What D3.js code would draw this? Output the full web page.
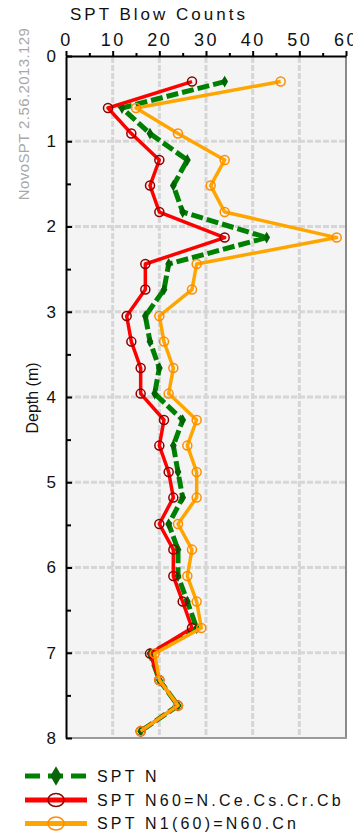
<!DOCTYPE html>
<html>
<head>
<meta charset="utf-8">
<script src="https://cdn.jsdelivr.net/npm/d3@7"></script>
<style>
  html, body { margin: 0; padding: 0; background: #ffffff; }
  svg { display: block; font-family: "Liberation Sans", Arial, sans-serif; }
</style>
</head>
<body>
<svg id="chart" width="353" height="836"></svg>
<script>
// ---- data ----
const depths = [0.30, 0.61, 0.91, 1.22, 1.52, 1.83, 2.13, 2.44, 2.74, 3.05, 3.35, 3.66, 3.96,
                4.27, 4.57, 4.88, 5.18, 5.49, 5.79, 6.10, 6.40, 6.71, 7.01, 7.32, 7.62, 7.92];
const sptN  = [34, 12, 18, 26, 23, 25, 43, 22, 21, 17, 18, 20, 19, 25, 23, 24, 25, 22, 24, 24, 26, 28, 18, 20, 24, 16];
const n60   = [27,  9, 14, 20, 18, 20, 34, 17, 17, 13, 14, 16, 16, 21, 20, 22, 23, 20, 23, 23, 25, 27, 18, 20, 24, 16];
const n160  = [46, 15, 24, 34, 31, 34, 58, 28, 27, 20, 21, 23, 22, 28, 26, 28, 28, 24, 27, 26, 28, 29, 19, 20, 24, 16];
const xTicks = [0, 10, 20, 30, 40, 50, 60];
const xMinorTicks = [5, 15, 25, 35, 45, 55];
const yTicks = [0, 1, 2, 3, 4, 5, 6, 7, 8];
const yMinorTicks = [0.5, 1.5, 2.5, 3.5, 4.5, 5.5, 6.5, 7.5];
const legendLabels = ["SPT N", "SPT N60=N.Ce.Cs.Cr.Cb", "SPT N1(60)=N60.Cn"];
const titleText = "SPT Blow Counts";
const yLabel = "Depth (m)";
const watermark = "NovoSPT 2.56.2013.129";

// ---- layout ----
const svg = d3.select("#chart");
const pLeft = 66, pRight = 346, pTop = 56, pBottom = 738;
const x = d3.scaleLinear().domain([0, 60]).range([pLeft, pRight]);
const y = d3.scaleLinear().domain([0, 8]).range([pTop, pBottom]);

// background
svg.append("rect").attr("x", pLeft).attr("y", pTop)
  .attr("width", pRight - pLeft).attr("height", pBottom - pTop)
  .attr("fill", "#f4f4f4");

// grid
const grid = svg.append("g").attr("stroke", "#d6d6d6").attr("stroke-width", 3)
  .attr("stroke-dasharray", "6,2");
grid.selectAll(".vg").data(xTicks.filter(d => d > 0 && d < 60)).join("line")
  .attr("x1", d => x(d)).attr("x2", d => x(d)).attr("y1", pTop + 1).attr("y2", pBottom - 1);
grid.selectAll(".hg").data(yTicks.filter(d => d > 0 && d < 8)).join("line")
  .attr("y1", d => y(d)).attr("y2", d => y(d)).attr("x1", pLeft + 1).attr("x2", pRight - 1);

// right & bottom border
svg.append("line").attr("x1", pRight).attr("x2", pRight).attr("y1", pTop).attr("y2", pBottom + 1)
  .attr("stroke", "#8a8a8a").attr("stroke-width", 2);
svg.append("line").attr("x1", pLeft).attr("x2", pRight + 1).attr("y1", pBottom).attr("y2", pBottom)
  .attr("stroke", "#9a9a9a").attr("stroke-width", 2);

// top axis
const xAxis = svg.append("g").attr("transform", `translate(0,${pTop})`)
  .call(d3.axisTop(x).tickValues(xTicks).tickSize(5).tickSizeOuter(0).tickPadding(5));
xAxis.select(".domain").attr("stroke", "#000").attr("stroke-width", 2);
xAxis.selectAll(".tick line").attr("stroke", "#000").attr("stroke-width", 2);
xAxis.selectAll(".tick text").attr("font-size", 18).attr("fill", "#111")
  .attr("font-family", "Liberation Sans, Arial, sans-serif").style("letter-spacing", "2.5px");
const xMinor = svg.append("g").attr("transform", `translate(0,${pTop})`)
  .call(d3.axisTop(x).tickValues(xMinorTicks).tickSize(3).tickSizeOuter(0).tickFormat(""));
xMinor.select(".domain").remove();
xMinor.selectAll(".tick line").attr("stroke", "#000").attr("stroke-width", 2);

// left axis (ticks inside)
const yAxis = svg.append("g").attr("transform", `translate(${pLeft},0)`)
  .call(d3.axisLeft(y).tickValues(yTicks).tickSize(-6).tickSizeOuter(0).tickPadding(10));
yAxis.select(".domain").attr("stroke", "#000").attr("stroke-width", 2);
yAxis.selectAll(".tick line").attr("stroke", "#000").attr("stroke-width", 2);
yAxis.selectAll(".tick text").attr("font-size", 17).attr("fill", "#111")
  .attr("font-family", "Liberation Sans, Arial, sans-serif");
const yMinor = svg.append("g").attr("transform", `translate(${pLeft},0)`)
  .call(d3.axisLeft(y).tickValues(yMinorTicks).tickSize(-5).tickSizeOuter(0).tickFormat(""));
yMinor.select(".domain").remove();
yMinor.selectAll(".tick line").attr("stroke", "#000").attr("stroke-width", 2);

// title
svg.append("text").attr("x", 70).attr("y", 20).attr("font-size", 17).attr("fill", "#111")
  .style("letter-spacing", "3px").text(titleText);

// y label
svg.append("text").attr("transform", `translate(38,398) rotate(-90)`)
  .attr("text-anchor", "middle").attr("font-size", 16).attr("fill", "#111").text(yLabel);

// watermark
svg.append("text").attr("transform", `translate(29,114) rotate(-90)`)
  .attr("text-anchor", "middle").attr("font-size", 15).attr("fill", "#a8a8a8")
  .style("letter-spacing", "0.4px").text(watermark);

// ---- series ----
const lineGen = vals => d3.line().x((d, i) => x(vals[i])).y((d, i) => y(depths[i]))(depths);

// SPT N (green dashed, diamonds)
svg.append("path").attr("d", lineGen(sptN)).attr("fill", "none")
  .attr("stroke", "#008000").attr("stroke-width", 5).attr("stroke-dasharray", "12,4");
const diamond = d3.symbol().type(d3.symbolDiamond).size(40);
svg.append("g").selectAll("path").data(depths).join("path")
  .attr("transform", (d, i) => `translate(${x(sptN[i])},${y(d)})`)
  .attr("d", diamond).attr("fill", "#006400");

// N60 (red)
svg.append("path").attr("d", lineGen(n60)).attr("fill", "none")
  .attr("stroke", "#ff0000").attr("stroke-width", 3.5).attr("stroke-linejoin", "round");
svg.append("g").selectAll("circle").data(depths).join("circle")
  .attr("cx", (d, i) => x(n60[i])).attr("cy", d => y(d)).attr("r", 4.5)
  .attr("fill", "none").attr("stroke", "#8b0000").attr("stroke-width", 1.5);

// N1(60) (orange)
svg.append("path").attr("d", lineGen(n160)).attr("fill", "none")
  .attr("stroke", "#ffa500").attr("stroke-width", 3.5).attr("stroke-linejoin", "round");
svg.append("g").selectAll("circle").data(depths).join("circle")
  .attr("cx", (d, i) => x(n160[i])).attr("cy", d => y(d)).attr("r", 4.5)
  .attr("fill", "none").attr("stroke", "#ff8c00").attr("stroke-width", 1.5);

// ---- legend ----
const legY = [776, 800, 823.5];
const lg = svg.append("g");
// green
lg.append("line").attr("x1", 25).attr("x2", 87).attr("y1", legY[0]).attr("y2", legY[0])
  .attr("stroke", "#008000").attr("stroke-width", 5).attr("stroke-dasharray", "15,8");
lg.append("path").attr("transform", `translate(56,${legY[0]})`)
  .attr("d", d3.symbol().type(d3.symbolDiamond).size(110)).attr("fill", "#0a640a");
// red
lg.append("line").attr("x1", 25).attr("x2", 87).attr("y1", legY[1]).attr("y2", legY[1])
  .attr("stroke", "#ff0000").attr("stroke-width", 5);
lg.append("ellipse").attr("cx", 56).attr("cy", legY[1]).attr("rx", 8).attr("ry", 6.5)
  .attr("fill", "none").attr("stroke", "#8b0000").attr("stroke-width", 1.5);
// orange
lg.append("line").attr("x1", 25).attr("x2", 87).attr("y1", legY[2]).attr("y2", legY[2])
  .attr("stroke", "#ffa500").attr("stroke-width", 5);
lg.append("ellipse").attr("cx", 56).attr("cy", legY[2]).attr("rx", 8).attr("ry", 6.5)
  .attr("fill", "none").attr("stroke", "#ff8c00").attr("stroke-width", 1.5);
lg.selectAll("text").data(legendLabels).join("text")
  .attr("x", 97).attr("y", (d, i) => legY[i] + 5.5)
  .attr("font-size", 16).attr("fill", "#111").style("letter-spacing", "3.2px")
  .text(d => d);
</script>
</body>
</html>
